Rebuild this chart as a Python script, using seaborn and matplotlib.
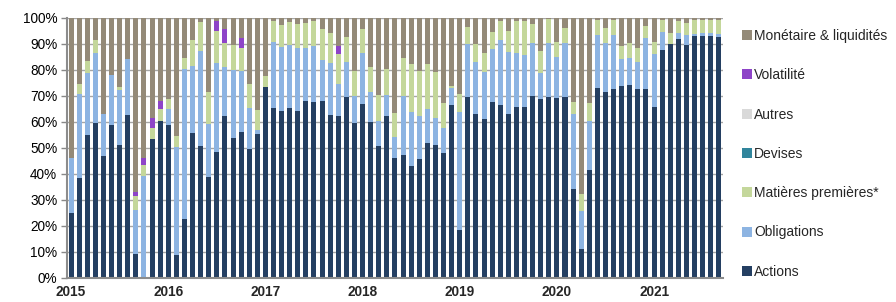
import numpy as np
import matplotlib
matplotlib.use("Agg")
import matplotlib.pyplot as plt
from matplotlib.lines import Line2D
import seaborn as sns

# Répartition mensuelle (%), janv. 2015 -> sept. 2021
actions = [25, 38.5, 55, 59.5, 47, 58.8, 51, 62.7, 9.4, 0, 53.6, 60.4,
           58.8, 9, 22.8, 55.9, 50.6, 39, 48.5, 62.3, 54, 56.3, 49.7, 55.3,
           73.6, 65.4, 64.2, 65.4, 64.2, 68.2, 67.8, 68, 62.8, 62.3, 69.5, 59.5,
           66.9, 60.1, 50.8, 62.3, 46, 47.3, 43.1, 45.9, 52, 51.2, 48.2, 66.5,
           18.5, 69.7, 63, 61.2, 67.8, 66.5, 62.9, 65.9, 65.9, 70, 68.7, 69.5,
           69.1, 69.5, 34.2, 11.2, 41.5, 73.2, 71.7, 72.7, 73.8, 74.2, 72.7, 72.7,
           65.6, 87.7, 89.9, 91.8, 89.6, 93.2, 93.2, 93.2, 92.8]
obligations = [21, 32.3, 23.7, 26.9, 16, 19.2, 21.4, 21.4, 16.9, 39.4, 0, 0,
               6.2, 41.5, 57.7, 25.8, 36.8, 20.1, 34.3, 19, 26, 23.3, 15.8, 1.7,
               0, 25.4, 24.5, 24.3, 24.4, 20.4, 21.6, 15.8, 19.8, 12.3, 13.7, 10.6,
               19.5, 11.6, 9.6, 8.1, 8.1, 22.7, 20.9, 16.5, 13, 10.5, 9.6, 6.4,
               45.5, 20.2, 19.9, 18.2, 20.2, 25, 23.9, 20.8, 19.9, 20.3, 10.3, 20.8,
               16, 20.8, 28.9, 14.7, 18.9, 20.3, 18.6, 20.8, 10.4, 10.5, 10.2, 19.5,
               20.4, 6.8, 0, 2.6, 3.9, 0.6, 0.9, 1.2, 0.9]
matieres = [0, 3.8, 4.8, 5.1, 0, 0, 0.9, 0, 5.4, 4.1, 4.2, 4.6,
            4, 4, 4.2, 9.8, 11.2, 12.6, 12.3, 9.2, 9.6, 9, 9.1, 7.6,
            4.1, 8, 8.6, 8.9, 9.1, 9.3, 9.6, 11.8, 11.8, 11.4, 9.6, 9.5,
            9.2, 9.3, 10, 9.9, 9.2, 14.7, 18.3, 17.2, 17.3, 17.7, 9.6, 0.9,
            6.8, 6.8, 7, 7, 6.7, 7.3, 8.2, 12.1, 13, 7.4, 8.4, 9.2,
            5.8, 5.7, 4.7, 6.4, 7, 5.7, 6, 5.7, 5.2, 5.6, 5.4, 4.8,
            4.6, 4.7, 4.5, 4.4, 4.7, 5.4, 5.1, 4.8, 5.5]
devises = [0] * 81
autres = [0] * 81
volatilite = [0, 0, 0, 0, 0, 0, 0, 0, 1.5, 2.8, 3.6, 3.2,
              0, 0, 0, 0, 0, 0, 3.9, 5.3, 0, 3.8, 0, 0,
              0, 0, 0, 0, 0, 0, 0, 0, 0, 3.4, 0, 0,
              0, 0, 0, 0, 0, 0, 0, 0, 0, 0, 0, 0,
              0, 0, 0, 0, 0, 0, 0, 0, 0, 0, 0, 0,
              0, 0, 0, 0, 0, 0, 0, 0, 0, 0, 0, 0,
              0, 0, 0, 0, 0, 0, 0, 0, 0]
monetaire = [54, 25.4, 16.5, 8.5, 37, 22, 26.7, 15.9, 66.8, 53.7, 38.6, 31.8,
             31, 45.5, 15.3, 8.5, 1.4, 28.3, 1, 4.2, 10.4, 7.6, 25.4, 35.4,
             22.3, 1.2, 2.7, 1.4, 2.3, 2.1, 1, 4.4, 5.6, 10.6, 7.2, 20.4,
             4.4, 19, 29.6, 19.7, 36.7, 15.3, 17.7, 20.4, 17.7, 20.6, 32.6, 26.2,
             29.2, 3.3, 10.1, 13.6, 5.3, 1.2, 5, 1.2, 1.2, 2.3, 12.6, 0.5,
             9.1, 4, 32.2, 67.7, 32.6, 0.8, 3.7, 0.8, 10.6, 9.7, 11.7, 3,
             9.4, 0.8, 5.6, 1.2, 1.8, 0.8, 0.8, 0.8, 0.8]

annees = ['2015', '2016', '2017', '2018', '2019', '2020', '2021']

series = [
    ('Actions', actions, '#243F62'),
    ('Obligations', obligations, '#8DB4E2'),
    ('Matières premières*', matieres, '#C4D79B'),
    ('Devises', devises, '#31859C'),
    ('Autres', autres, '#D9D9D9'),
    ('Volatilité', volatilite, '#8E44C8'),
    ('Monétaire & liquidités', monetaire, '#948A78'),
]

sns.set_theme(style="white")
plt.rcParams['font.family'] = ['Liberation Sans', 'DejaVu Sans']

fig = plt.figure(figsize=(8.96, 3.02), dpi=100)
ax = fig.add_axes([0.0748, 0.0795, 0.8318 - 0.0748 - 0.025, 0.9404 - 0.0795])

x = np.arange(len(actions))
bas = np.zeros(len(actions))
for nom, vals, couleur in series:
    vals = np.array(vals, dtype=float)
    ax.bar(x, vals, bottom=bas, width=0.62, color=couleur, linewidth=0, zorder=2)
    bas += vals

ax.set_xlim(-0.5, 80.5)
ax.set_ylim(0, 100)
ax.set_yticks(np.arange(0, 101, 10))
ax.set_yticklabels([f'{v}%' for v in range(0, 101, 10)], fontsize=9.8, color='#000000')
ax.yaxis.grid(True, color='#A6A6A6', linewidth=1, zorder=0)
ax.set_axisbelow(True)

ax.set_xticks(np.arange(0, 81, 12))
ax.set_xticklabels(annees, fontsize=9.8, fontweight='bold')
ax.set_xticks(np.arange(-0.5, 81, 12), minor=True)
ax.tick_params(axis='x', which='major', length=0, pad=5)
ax.tick_params(axis='x', which='minor', length=4, width=1, color='#888888', direction='out')
ax.tick_params(axis='y', length=4, width=1, color='#888888', direction='out', pad=3)
ax.tick_params(bottom=True, left=True)

for s in ['top', 'right']:
    ax.spines[s].set_visible(False)
for s in ['left', 'bottom']:
    ax.spines[s].set_color('#8C8C8C')
    ax.spines[s].set_linewidth(1.5)

ordre = ['Monétaire & liquidités', 'Volatilité', 'Autres', 'Devises',
         'Matières premières*', 'Obligations', 'Actions']
couleurs = {nom: c for nom, _, c in series}
poignees = [Line2D([], [], marker='s', linestyle='none', markersize=6.5,
                   markerfacecolor=couleurs[n], markeredgewidth=0) for n in ordre]
fig.legend(poignees, ordre, loc='upper left', bbox_to_anchor=(0.829, 0.904),
           frameon=False, fontsize=10, labelspacing=1.82, handlelength=0.6,
           handletextpad=0.2, borderpad=0, borderaxespad=0)

fig.savefig('out.png', dpi=100)
